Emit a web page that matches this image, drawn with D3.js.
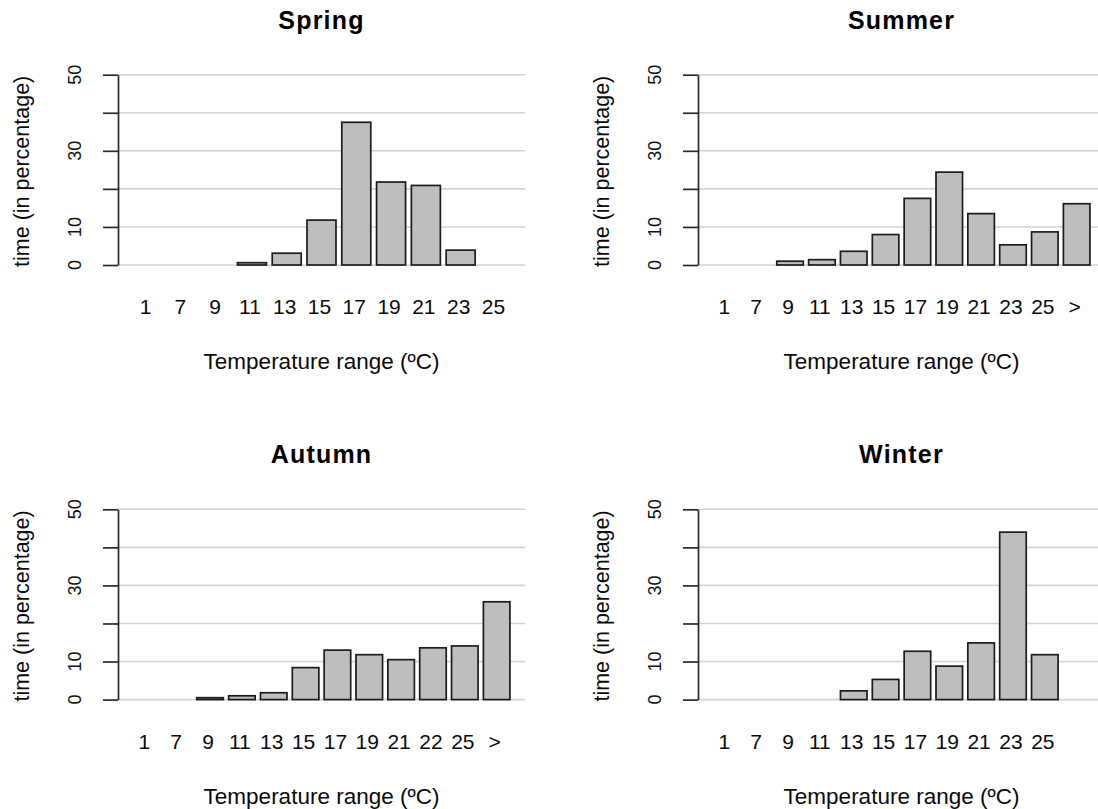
<!DOCTYPE html>
<html>
<head>
<meta charset="utf-8">
<script src="https://cdn.jsdelivr.net/npm/d3@7"></script>
<style>
  html, body { margin: 0; padding: 0; background: #fff; }
  svg { display: block; font-family: "Liberation Sans", Arial, Helvetica, sans-serif; }
</style>
</head>
<body>
<svg id="chart" width="1098" height="809"></svg>
<script>
// Share of time (%) spent in each temperature range, by season
const seasons = ["Spring", "Summer", "Autumn", "Winter"];

const springRanges = ["1", "7", "9", "11", "13", "15", "17", "19", "21", "23", "25"];
const springTime   = [0, 0, 0, 0.6, 3.1, 11.8, 37.5, 21.8, 20.9, 3.9, 0];

const summerRanges = ["1", "7", "9", "11", "13", "15", "17", "19", "21", "23", "25", ">"];
const summerTime   = [0, 0, 1.0, 1.4, 3.6, 8.0, 17.5, 24.4, 13.5, 5.3, 8.7, 16.1];

const autumnRanges = ["1", "7", "9", "11", "13", "15", "17", "19", "21", "22", "25", ">"];
const autumnTime   = [0, 0, 0.5, 1.0, 1.8, 8.4, 13.0, 11.8, 10.5, 13.6, 14.1, 25.7];

const winterRanges = ["1", "7", "9", "11", "13", "15", "17", "19", "21", "23", "25", ""];
const winterTime   = [0, 0, 0, 0, 2.3, 5.3, 12.7, 8.8, 14.9, 44.0, 11.8, 0];

const yGridTicks  = [0, 10, 20, 30, 40, 50];
const yTickLabels = [0, 10, 30, 50];

const xTitle = "Temperature range (ºC)";
const yTitle = "time (in percentage)";

const panels = [
  { title: seasons[0], ranges: springRanges, time: springTime, col: 0, row: 0 },
  { title: seasons[1], ranges: summerRanges, time: summerTime, col: 1, row: 0 },
  { title: seasons[2], ranges: autumnRanges, time: autumnTime, col: 0, row: 1 },
  { title: seasons[3], ranges: winterRanges, time: winterTime, col: 1, row: 1 }
];

// panel geometry
const panelW = 580, panelH = 434.6;
const plotL = 118, plotR = 525;
const plotTop = 74.7, plotBottom = 265;
const midX = (plotL + plotR) / 2;

const svg = d3.select("#chart");
svg.append("rect").attr("width", 1098).attr("height", 809).attr("fill", "#fff");

panels.forEach(p => {
  const g = svg.append("g")
    .attr("transform", `translate(${p.col * panelW},${p.row * panelH})`);

  const n = p.ranges.length;
  // bars of width 1 separated by 0.2, plus a 4% margin on either side
  const ext = 0.04 * (1.2 * n - 0.2);
  const x = d3.scaleBand()
    .domain(d3.range(n))
    .range([plotL, plotR])
    .paddingInner(0.2 / 1.2)
    .paddingOuter(ext / 1.2);

  const y = d3.scaleLinear().domain([0, 50]).range([plotBottom, plotTop]);

  // horizontal grid
  g.append("g").selectAll("line")
    .data(yGridTicks)
    .join("line")
    .attr("x1", plotL).attr("x2", plotR)
    .attr("y1", d => y(d)).attr("y2", d => y(d))
    .attr("stroke", "#d3d3d3")
    .attr("stroke-width", 1.6);

  // bars
  g.append("g").selectAll("rect")
    .data(p.time.map((v, i) => ({ v, i })).filter(d => d.v > 0))
    .join("rect")
    .attr("x", d => x(d.i))
    .attr("width", x.bandwidth())
    .attr("y", d => y(d.v))
    .attr("height", d => y(0) - y(d.v))
    .attr("fill", "#bebebe")
    .attr("stroke", "#1c1c1c")
    .attr("stroke-width", 1.7);

  // y axis
  const yAxis = d3.axisLeft(y)
    .tickValues(yGridTicks)
    .tickSize(15)
    .tickSizeOuter(0)
    .tickFormat("");
  const ya = g.append("g").attr("transform", `translate(${plotL},0)`).call(yAxis);
  ya.selectAll("path, line").attr("stroke", "#2a2a2a").attr("stroke-width", 1.7);

  g.append("g").selectAll("text")
    .data(yTickLabels)
    .join("text")
    .attr("transform", d => `translate(81,${y(d)}) rotate(-90)`)
    .attr("text-anchor", "middle")
    .attr("font-size", 18)
    .attr("fill", "#111")
    .text(d => d);

  // category labels under the bars
  g.append("g").selectAll("text")
    .data(p.ranges)
    .join("text")
    .attr("x", (d, i) => x(i) + x.bandwidth() / 2 - 2)
    .attr("y", 314)
    .attr("text-anchor", "middle")
    .attr("font-size", 21)
    .attr("fill", "#0a0a0a")
    .text(d => d);

  // titles
  g.append("text")
    .attr("x", midX).attr("y", 28.5)
    .attr("text-anchor", "middle")
    .attr("font-size", 25)
    .attr("font-weight", "bold")
    .attr("letter-spacing", 1.2)
    .attr("fill", "#000")
    .text(p.title);

  g.append("text")
    .attr("x", midX).attr("y", 369)
    .attr("text-anchor", "middle")
    .attr("font-size", 22.5)
    .attr("fill", "#0a0a0a")
    .text(xTitle);

  g.append("text")
    .attr("transform", `translate(29,${(plotTop + plotBottom) / 2 + 1.5}) rotate(-90)`)
    .attr("text-anchor", "middle")
    .attr("font-size", 21.5)
    .attr("fill", "#0a0a0a")
    .text(yTitle);
});
</script>
</body>
</html>
